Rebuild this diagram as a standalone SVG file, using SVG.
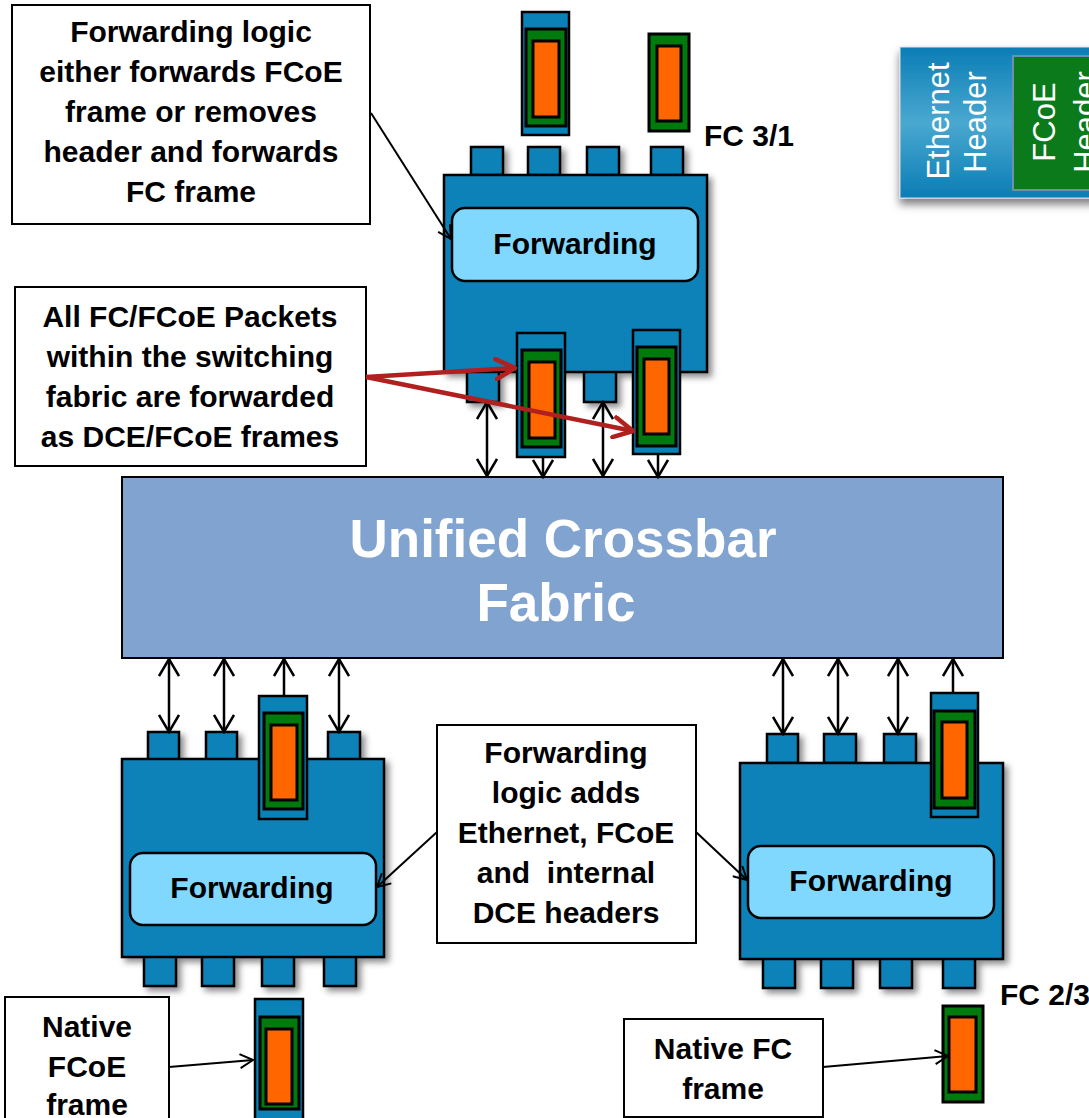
<svg xmlns="http://www.w3.org/2000/svg" width="1089" height="1118" viewBox="0 0 1089 1118">
<defs>
<style>
.sw{fill:#0A82B8;stroke:#000;stroke-width:2.5}
.pkb{fill:#0A82B8;stroke:#000;stroke-width:2.5}
.pkg{fill:#007A0C;stroke:#000;stroke-width:3}
.pko{fill:#FF6600;stroke:#000;stroke-width:3}
.fwd{fill:#80D8FF;stroke:#000;stroke-width:2.5}
.lbl{font-family:"Liberation Sans",Arial,sans-serif;font-weight:bold;font-size:30px;fill:#000;text-anchor:middle}
.lbl2{font-family:"Liberation Sans",Arial,sans-serif;font-weight:bold;font-size:30px;fill:#000}
.box{fill:#fff;stroke:#000;stroke-width:2}
.conn{stroke:#000;stroke-width:2.5;fill:none}
.thin{stroke:#000;stroke-width:2;fill:none}
.red{stroke:#B0201E;stroke-width:4.5;fill:none}
.leg{font-family:"Liberation Sans",Arial,sans-serif;font-size:31px;fill:#fff;text-anchor:middle}
.xb{font-family:"Liberation Sans",Arial,sans-serif;font-weight:bold;font-size:53px;fill:#fff;text-anchor:middle}
</style>
<filter id="sh" x="-20%" y="-20%" width="150%" height="150%"><feDropShadow dx="4" dy="4" stdDeviation="3" flood-color="#000" flood-opacity="0.45"/></filter>
<filter id="shl" x="-20%" y="-20%" width="150%" height="150%"><feDropShadow dx="0" dy="6" stdDeviation="4" flood-color="#000" flood-opacity="0.5"/></filter>
<linearGradient id="lg" x1="0" y1="0" x2="0" y2="1">
<stop offset="0" stop-color="#0A7DB5"/><stop offset="0.5" stop-color="#4AA8D0"/><stop offset="1" stop-color="#0A7DB5"/>
</linearGradient>
<marker id="ah" markerUnits="userSpaceOnUse" viewBox="0 0 20 22" markerWidth="20" markerHeight="22" refX="18" refY="11" orient="auto-start-reverse"><path d="M1,1 L18,11 L1,21" fill="none" stroke="#000" stroke-width="2.5"/></marker>
<marker id="ah2" markerUnits="userSpaceOnUse" viewBox="0 0 16 16" markerWidth="16" markerHeight="16" refX="14" refY="8" orient="auto"><path d="M1,1 L14,8 L1,15" fill="none" stroke="#000" stroke-width="2"/></marker>
<marker id="ahr" markerUnits="userSpaceOnUse" viewBox="0 0 24 24" markerWidth="24" markerHeight="24" refX="21" refY="12" orient="auto"><path d="M2,2 L21,12 L2,22" fill="none" stroke="#B0201E" stroke-width="4.5" stroke-linecap="round" stroke-linejoin="round"/></marker>
</defs>
<rect width="1089" height="1118" fill="#fff"/>

<g id="legend">
<rect x="900" y="47" width="200" height="151" fill="url(#lg)" stroke="#DDE" stroke-width="1" filter="url(#shl)"/>
<rect x="1013" y="56" width="90" height="134" fill="#0B7A1A" stroke="#6F8FB0" stroke-width="2"/>
<text class="leg" transform="translate(949,121) rotate(-90)">Ethernet</text>
<text class="leg" transform="translate(986,122) rotate(-90)">Header</text>
<text class="leg" transform="translate(1055,122) rotate(-90)">FCoE</text>
<text class="leg" transform="translate(1096,122) rotate(-90)">Header</text>
</g>

<g id="crossbar">
<rect x="122" y="477" width="881" height="181" fill="#81A3D0" stroke="#000" stroke-width="2"/>
<text class="xb" x="563" y="557">Unified Crossbar</text>
<text class="xb" x="556" y="621">Fabric</text>
</g>

<g id="switch-top">
<g filter="url(#sh)">
<rect class="sw" x="471" y="147" width="32" height="28"/>
<rect class="sw" x="528" y="147" width="32" height="28"/>
<rect class="sw" x="587" y="147" width="32" height="28"/>
<rect class="sw" x="651" y="147" width="32" height="28"/>
<rect class="sw" x="467" y="368" width="32" height="34"/>
<rect class="sw" x="584" y="368" width="32" height="34"/>
<rect class="sw" x="444" y="175" width="263" height="197"/>
</g>
<rect class="fwd" x="452" y="208" width="246" height="73" rx="13"/>
<text class="lbl" x="575" y="254">Forwarding</text>
</g>

<g id="packets-top">
<rect class="pkb" x="522" y="12" width="47" height="123"/>
<rect class="pkg" x="526" y="29" width="40" height="97"/>
<rect class="pko" x="533" y="41" width="26" height="76"/>
<rect class="pkg" x="649" y="34" width="40" height="97"/>
<rect class="pko" x="657" y="46" width="24" height="75"/>
<rect class="pkb" x="517" y="333" width="48" height="124"/>
<rect class="pkg" x="522" y="350" width="39" height="97"/>
<rect class="pko" x="529" y="362" width="26" height="76"/>
<rect class="pkb" x="633" y="330" width="47" height="124"/>
<rect class="pkg" x="637" y="347" width="39" height="99"/>
<rect class="pko" x="644" y="359" width="25" height="75"/>
</g>
<text id="fc31" class="lbl2" x="704" y="146">FC 3/1</text>

<g id="switch-left">
<g filter="url(#sh)">
<rect class="sw" x="148" y="732" width="31" height="29"/>
<rect class="sw" x="206" y="732" width="31" height="29"/>
<rect class="sw" x="328" y="732" width="32" height="29"/>
<rect class="sw" x="144" y="955" width="32" height="31"/>
<rect class="sw" x="202" y="955" width="32" height="31"/>
<rect class="sw" x="262" y="955" width="32" height="31"/>
<rect class="sw" x="324" y="955" width="32" height="31"/>
<rect class="sw" x="122" y="759" width="262" height="198"/>
</g>
<rect class="pkb" x="259" y="696" width="48" height="123"/>
<rect class="pkg" x="264" y="713" width="39" height="96"/>
<rect class="pko" x="271" y="725" width="26" height="75"/>
<rect class="fwd" x="130" y="853" width="246" height="72" rx="13"/>
<text class="lbl" x="252" y="898">Forwarding</text>
</g>

<g id="switch-right">
<g filter="url(#sh)">
<rect class="sw" x="767" y="734" width="31" height="29"/>
<rect class="sw" x="824" y="734" width="32" height="29"/>
<rect class="sw" x="884" y="734" width="32" height="29"/>
<rect class="sw" x="763" y="957" width="32" height="31"/>
<rect class="sw" x="821" y="957" width="32" height="31"/>
<rect class="sw" x="880" y="957" width="32" height="31"/>
<rect class="sw" x="943" y="957" width="32" height="31"/>
<rect class="sw" x="740" y="763" width="263" height="196"/>
</g>
<rect class="pkb" x="931" y="693" width="47" height="124"/>
<rect class="pkg" x="934" y="711" width="41" height="97"/>
<rect class="pko" x="942" y="722" width="25" height="76"/>
<rect class="fwd" x="748" y="846" width="246" height="72" rx="13"/>
<text class="lbl" x="871" y="891">Forwarding</text>
</g>
<text id="fc23" class="lbl2" x="1000" y="1005">FC 2/3</text>

<g id="packet-fcoe">
<rect class="pkb" x="255" y="999" width="48" height="130"/>
<rect class="pkg" x="260" y="1017" width="39" height="92"/>
<rect class="pko" x="266" y="1029" width="26" height="75"/>
</g>
<g id="packet-fc">
<rect class="pkg" x="943" y="1006" width="40" height="96"/>
<rect class="pko" x="949" y="1017" width="27" height="75"/>
</g>

<g id="note-forwarding">
<rect class="box" x="12" y="5" width="358" height="219"/>
<text class="lbl" x="191" y="42">Forwarding logic</text>
<text class="lbl" x="191" y="82">either forwards FCoE</text>
<text class="lbl" x="191" y="122">frame or removes</text>
<text class="lbl" x="191" y="162">header and forwards</text>
<text class="lbl" x="191" y="202">FC frame</text>
</g>
<g id="note-packets">
<rect class="box" x="15" y="287" width="351" height="179"/>
<text class="lbl" x="190" y="327">All FC/FCoE Packets</text>
<text class="lbl" x="190" y="367">within the switching</text>
<text class="lbl" x="190" y="407">fabric are forwarded</text>
<text class="lbl" x="190" y="447">as DCE/FCoE frames</text>
</g>
<g id="note-adds">
<rect class="box" x="437" y="725" width="259" height="218"/>
<text class="lbl" x="566" y="763">Forwarding</text>
<text class="lbl" x="566" y="803">logic adds</text>
<text class="lbl" x="566" y="843">Ethernet, FCoE</text>
<text class="lbl" x="566" y="883" xml:space="preserve" style="white-space:pre">and  internal</text>
<text class="lbl" x="566" y="923">DCE headers</text>
</g>
<g id="note-native-fcoe">
<rect class="box" x="5" y="997" width="164" height="130"/>
<text class="lbl" x="87" y="1037">Native</text>
<text class="lbl" x="87" y="1077">FCoE</text>
<text class="lbl" x="87" y="1115">frame</text>
</g>
<g id="note-native-fc">
<rect class="box" x="624" y="1019" width="199" height="98"/>
<text class="lbl" x="723" y="1059">Native FC</text>
<text class="lbl" x="723" y="1099">frame</text>
</g>

<g id="connectors">
<line class="conn" x1="487" y1="402" x2="487" y2="476" marker-start="url(#ah)" marker-end="url(#ah)"/>
<line class="conn" x1="603" y1="402" x2="603" y2="476" marker-start="url(#ah)" marker-end="url(#ah)"/>
<line class="conn" x1="543" y1="457" x2="543" y2="477" marker-end="url(#ah)"/>
<line class="conn" x1="658" y1="454" x2="658" y2="477" marker-end="url(#ah)"/>
<line class="conn" x1="169" y1="659" x2="169" y2="732" marker-start="url(#ah)" marker-end="url(#ah)"/>
<line class="conn" x1="224" y1="659" x2="224" y2="732" marker-start="url(#ah)" marker-end="url(#ah)"/>
<line class="conn" x1="339" y1="659" x2="339" y2="732" marker-start="url(#ah)" marker-end="url(#ah)"/>
<line class="conn" x1="284" y1="696" x2="284" y2="659" marker-end="url(#ah)"/>
<line class="conn" x1="783" y1="659" x2="783" y2="734" marker-start="url(#ah)" marker-end="url(#ah)"/>
<line class="conn" x1="838" y1="659" x2="838" y2="734" marker-start="url(#ah)" marker-end="url(#ah)"/>
<line class="conn" x1="898" y1="659" x2="898" y2="734" marker-start="url(#ah)" marker-end="url(#ah)"/>
<line class="conn" x1="953" y1="693" x2="953" y2="659" marker-end="url(#ah)"/>
<line class="thin" x1="371" y1="113" x2="451" y2="239" marker-end="url(#ah2)"/>
<line class="thin" x1="437" y1="832" x2="377" y2="887" marker-end="url(#ah2)"/>
<line class="thin" x1="696" y1="832" x2="747" y2="880" marker-end="url(#ah2)"/>
<line class="thin" x1="169" y1="1067" x2="253" y2="1060" marker-end="url(#ah2)"/>
<line class="thin" x1="823" y1="1067" x2="948" y2="1056" marker-end="url(#ah2)"/>
<line class="red" x1="366" y1="377" x2="515" y2="368" marker-end="url(#ahr)"/>
<line class="red" x1="366" y1="377" x2="633" y2="431" marker-end="url(#ahr)"/>
</g>
</svg>
